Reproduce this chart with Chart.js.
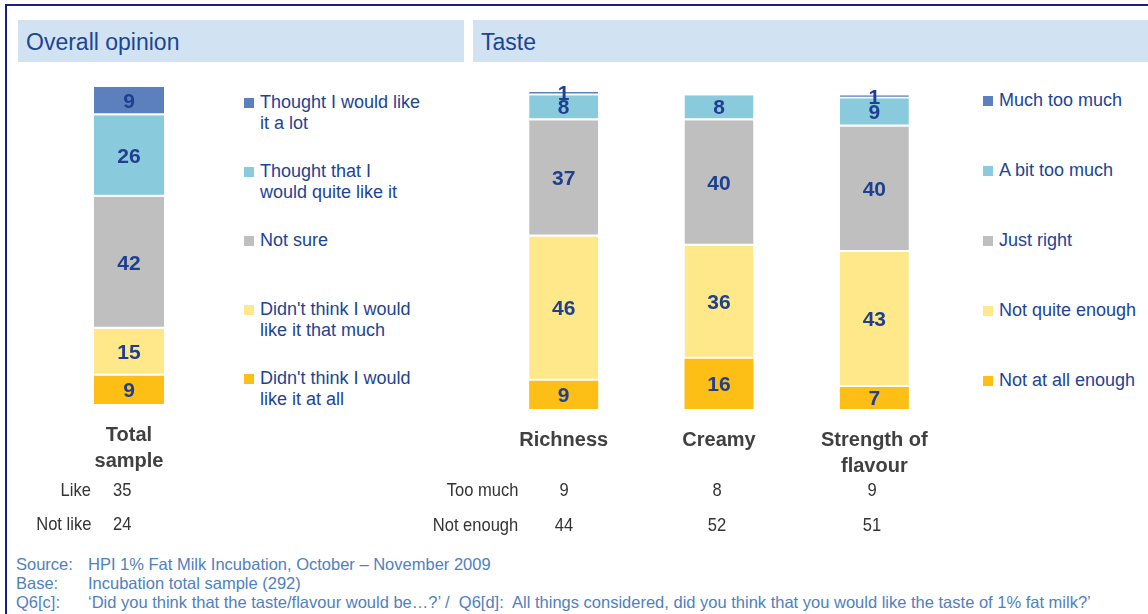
<!DOCTYPE html>
<html>
<head>
<meta charset="utf-8">
<script src="https://cdn.jsdelivr.net/npm/chart.js@4.4.1/dist/chart.umd.min.js"></script>
<style>
  body { margin: 0; background: #fff; font-family: "Liberation Sans", Arial, sans-serif; }
  #page { position: relative; width: 1148px; height: 614px; overflow: hidden; }
  .frame { position: absolute; left: 5px; top: 4px; width: 1300px; height: 800px;
           border-left: 2px solid #1d1d87; border-top: 2px solid #1d1d87; }
  .head { position: absolute; top: 20px; height: 42px; background: #d1e3f3; color: #1c4596;
          font-size: 23px; line-height: 44px; padding-left: 8px; box-sizing: border-box; }
  canvas { position: absolute; }
  .leg { position: absolute; color: #1d4494; font-size: 18px; line-height: 21px; white-space: nowrap; }
  .leg i { position: absolute; width: 10px; height: 10px; left: -16px; top: 6px; }
  .tbl { position: absolute; font-size: 19px; color: #333; line-height: 20px; white-space: nowrap; }
  .note { position: absolute; left: 16px; color: #4f81bd; font-size: 16.5px; line-height: 19px; white-space: pre; }
  .note span { display: inline-block; width: 72px; }
</style>
</head>
<body>
<div id="page">
  <div class="frame"></div>
  <div class="head" style="left:18px;width:446px;">Overall opinion</div>
  <div class="head" style="left:473px;width:700px;">Taste</div>
  <canvas id="overall" width="210" height="420" style="left:24px;top:80px;"></canvas>
  <canvas id="taste" width="466" height="425" style="left:486px;top:80px;"></canvas>
</div>
<script>
// overall opinion
const overallCategories = [["Total", "sample"]];
const likeALot = [9];
const quiteLike = [26];
const notSure = [42];
const notThatMuch = [15];
const notAtAll = [9];
const overallLabels = [
  ["Thought I would like", "it a lot"],
  ["Thought that I", "would quite like it"],
  ["Not sure"],
  ["Didn't think I would", "like it that much"],
  ["Didn't think I would", "like it at all"]
];

// taste
const tasteCategories = ["Richness", "Creamy", ["Strength of", "flavour"]];
const muchTooMuch = [1, 0, 1];
const bitTooMuch = [8, 8, 9];
const justRight = [37, 40, 40];
const notQuiteEnough = [46, 36, 43];
const notAtAllEnough = [9, 16, 7];
const tasteLabels = ["Much too much", "A bit too much", "Just right", "Not quite enough", "Not at all enough"];

// summary rows
const likeTotal = 35;
const notLikeTotal = 24;
const tooMuchRow = [9, 8, 9];
const notEnoughRow = [44, 52, 51];

const colors = ["#5b80bd", "#89cadc", "#bfbfbf", "#fee88a", "#fdbf15"];

const valueLabels = {
  id: "valueLabels",
  afterDatasetsDraw(chart) {
    const ctx = chart.ctx;
    ctx.save();
    ctx.font = 'bold 21px "Liberation Sans", Arial, sans-serif';
    ctx.fillStyle = "#1f3f8f";
    ctx.textAlign = "center";
    ctx.textBaseline = "middle";
    chart.data.datasets.forEach((ds, i) => {
      chart.getDatasetMeta(i).data.forEach((bar, j) => {
        const v = ds.data[j];
        if (!v) return;
        ctx.fillText(v, bar.x, (bar.y + bar.base) / 2 + 1);
      });
    });
    ctx.restore();
  }
};

function makeDatasets(series, names, barPct) {
  // listed top-down, stacked bottom-up, so reverse
  const last = series.length - 1;
  return series.map((data, i) => ({
    label: names[i],
    data: data,
    backgroundColor: colors[i],
    borderColor: "#fff",
    borderWidth: { top: 0, left: 0, right: 0, bottom: i === last ? 0 : 2 },
    borderSkipped: false,
    barPercentage: barPct,
    categoryPercentage: 1
  })).reverse();
}

function makeOptions(padTop) {
  return {
    responsive: false,
    animation: false,
    devicePixelRatio: 1,
    layout: { padding: { top: padTop, left: 0, right: 0, bottom: 0 } },
    plugins: { legend: { display: false }, tooltip: { enabled: false } },
    scales: {
      x: {
        stacked: true,
        grid: { display: false, drawTicks: false },
        border: { display: false },
        ticks: {
          color: "#404040",
          padding: 18,
          maxRotation: 0,
          autoSkip: false,
          font: { family: '"Liberation Sans", Arial, sans-serif', size: 20, weight: "bold", lineHeight: 1.3 }
        },
        afterFit: (scale) => { scale.height = 96; }
      },
      y: { stacked: true, display: false, min: 0, max: 101 }
    }
  };
}

new Chart(document.getElementById("overall"), {
  type: "bar",
  data: {
    labels: overallCategories,
    datasets: makeDatasets([likeALot, quiteLike, notSure, notThatMuch, notAtAll],
      overallLabels.map(l => l.join(" ")), 70 / 210)
  },
  options: makeOptions(7),
  plugins: [valueLabels]
});

new Chart(document.getElementById("taste"), {
  type: "bar",
  data: {
    labels: tasteCategories,
    datasets: makeDatasets([muchTooMuch, bitTooMuch, justRight, notQuiteEnough, notAtAllEnough],
      tasteLabels, 69 / 155.3)
  },
  options: makeOptions(12),
  plugins: [valueLabels]
});

// legends
const page = document.getElementById("page");
function addLegend(labels, left, top, step) {
  labels.forEach((lines, i) => {
    const d = document.createElement("div");
    d.className = "leg";
    d.style.left = left + "px";
    d.style.top = (top + i * step) + "px";
    d.innerHTML = '<i style="background:' + colors[i] + '"></i>' + [].concat(lines).join("<br>");
    page.appendChild(d);
  });
}
addLegend(overallLabels, 260, 92, 69);
addLegend(tasteLabels, 999, 90, 70);

// summary table (narrow text)
function addText(text, x, y, align) {
  const d = document.createElement("div");
  d.className = "tbl";
  d.textContent = text;
  d.style.top = (y - 10) + "px";
  if (align === "right") {
    d.style.right = (1148 - x) + "px";
    d.style.transformOrigin = "right center";
  } else if (align === "center") {
    d.style.left = (x - 50) + "px";
    d.style.width = "100px";
    d.style.textAlign = "center";
    d.style.transformOrigin = "center center";
  } else {
    d.style.left = x + "px";
    d.style.transformOrigin = "left center";
  }
  d.style.transform = "scaleX(0.87)";
  page.appendChild(d);
}
addText("Like", 91, 490, "right");
addText(likeTotal, 113, 490, "left");
addText("Not like", 91, 524, "right");
addText(notLikeTotal, 113, 524, "left");
addText("Too much", 518, 490, "right");
addText("Not enough", 518, 525, "right");
const colX = [564, 717, 872];
tooMuchRow.forEach((v, i) => addText(v, colX[i], 490, "center"));
notEnoughRow.forEach((v, i) => addText(v, colX[i], 525, "center"));

// footnotes
const notes = [
  ["Source:", "HPI 1% Fat Milk Incubation, October \u2013 November 2009"],
  ["Base:", "Incubation total sample (292)"],
  ["Q6[c]:", "\u2018Did you think that the taste/flavour would be\u2026?\u2019 /  Q6[d]:  All things considered, did you think that you would like the taste of 1% fat milk?\u2019"]
];
notes.forEach((n, i) => {
  const d = document.createElement("div");
  d.className = "note";
  d.style.top = (555 + i * 19) + "px";
  d.innerHTML = "<span>" + n[0] + "</span>" + n[1];
  page.appendChild(d);
});
</script>
</body>
</html>
